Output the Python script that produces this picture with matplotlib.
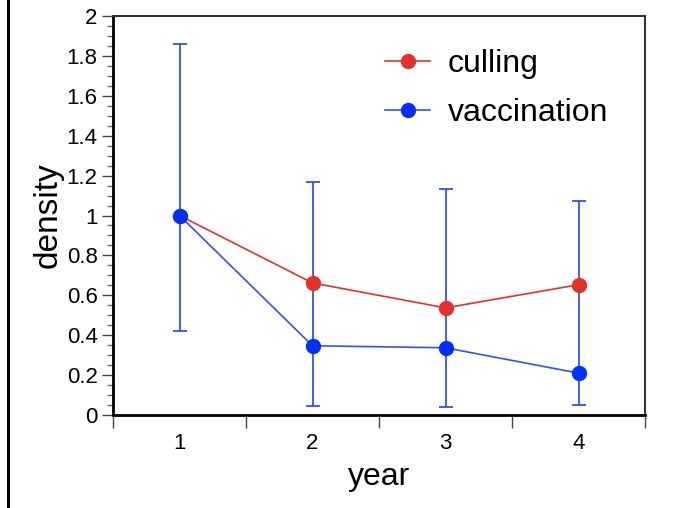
import numpy as np
import matplotlib
matplotlib.use("Agg")
from matplotlib import pyplot as plt
from matplotlib.lines import Line2D

years = [1, 2, 3, 4]
year_labels = ["1", "2", "3", "4"]
culling = [1.0, 0.662, 0.537, 0.653]
vaccination = [1.0, 0.347, 0.337, 0.21]
vacc_upper = [1.86, 1.168, 1.133, 1.073]
vacc_lower = [0.42, 0.045, 0.04, 0.05]

plt.rcParams['font.family'] = ['Liberation Sans', 'DejaVu Sans']

red = "#e8302b"
blue = "#0030ff"
blue_line = "#3050ff"

fig = plt.figure(figsize=(6.88, 5.08), dpi=100)
ax = fig.add_axes([113 / 688, 1 - 415 / 508, (645 - 113) / 688, (415 - 16) / 508])

vacc = np.array(vaccination)
yerr = [vacc - np.array(vacc_lower), np.array(vacc_upper) - vacc]

ax.plot(years, culling, color=red, lw=1.2, marker="o", ms=10,
        markerfacecolor=red, markeredgecolor=red, label="culling", zorder=3)
ax.errorbar(years, vaccination, yerr=yerr, fmt="none", ecolor=blue_line,
            elinewidth=1.3, capsize=5, capthick=1.3, zorder=2)
ax.plot(years, vaccination, color=blue_line, lw=1.2, marker="o", ms=10,
        markerfacecolor=blue, markeredgecolor=blue, label="vaccination", zorder=4)

ax.set_xlim(0.5, 4.5)
ax.set_ylim(0, 2)

ax.set_xticks(years)
ax.set_xticklabels(year_labels)
ax.set_xticks(np.arange(0.5, 4.6, 1), minor=True)
ax.tick_params(axis="x", which="major", length=0, pad=13, labelsize=16)
ax.tick_params(axis="x", which="minor", length=9, width=1, color="#444444", direction="out")

ax.set_yticks(np.arange(0, 2.01, 0.2))
ax.set_yticklabels(["0", "0.2", "0.4", "0.6", "0.8", "1", "1.2", "1.4", "1.6", "1.8", "2"])
ax.set_yticks(np.arange(0, 2.001, 0.05), minor=True)
ax.tick_params(axis="y", which="major", length=8, width=1, color="#444444", pad=3, labelsize=16)
ax.tick_params(axis="y", which="minor", length=4, width=1, color="#666666")

for side in ["left", "bottom"]:
    ax.spines[side].set_linewidth(2)
    ax.spines[side].set_color("black")
for side in ["top", "right"]:
    ax.spines[side].set_linewidth(1.5)
    ax.spines[side].set_color("#333333")

ax.set_xlabel("year", fontsize=23, labelpad=6)
ax.set_ylabel("density", fontsize=24, labelpad=2)

ax.legend(loc="upper right", frameon=False, fontsize=23, handlelength=1.4,
          handletextpad=0.55, labelspacing=0.6, bbox_to_anchor=(0.985, 0.99))

# black border line on the left edge of the image
fig.add_artist(Line2D([8 / 688, 8 / 688], [0, 1], color="black", lw=2.2,
                      transform=fig.transFigure))

fig.savefig("out.png", dpi=100)
